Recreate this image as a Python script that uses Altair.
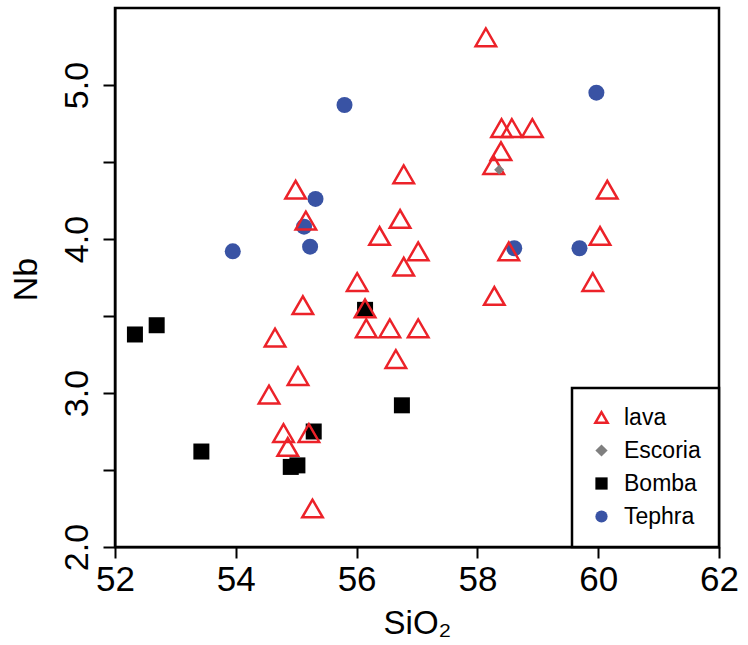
import altair as alt
import pandas as pd

# --- data ---
tephra_x = [55.80, 55.32, 55.13, 55.23, 53.95, 59.97, 58.61, 59.69]
tephra_y = [4.87, 4.26, 4.08, 3.95, 3.92, 4.95, 3.94, 3.94]

bomba_x = [52.33, 52.69, 53.43, 54.91, 55.02, 55.29, 56.14, 56.75]
bomba_y = [3.38, 3.44, 2.62, 2.52, 2.53, 2.75, 3.54, 2.92]

escoria_x = [58.36]
escoria_y = [4.45]

lava_x = [56.78, 54.99, 55.16, 56.72, 56.38, 57.02, 56.78, 56.01, 55.11, 56.14,
          56.16, 56.55, 57.02, 54.65, 56.65, 55.03, 54.55, 54.79, 55.21, 54.86,
          55.27, 58.14, 58.40, 58.57, 58.91, 58.39, 58.27, 60.15, 60.03, 58.52,
          59.91, 58.28]
lava_y = [4.42, 4.32, 4.12, 4.13, 4.02, 3.92, 3.82, 3.72, 3.57, 3.55,
          3.42, 3.42, 3.42, 3.36, 3.22, 3.11, 2.99, 2.74, 2.74, 2.65,
          2.25, 5.31, 4.72, 4.72, 4.72, 4.57, 4.48, 4.32, 4.02, 3.92,
          3.72, 3.63]

types = ["lava", "Escoria", "Bomba", "Tephra"]
size_order = ["Tephra", "Bomba", "Escoria", "lava"]
x_ticks = [52, 54, 56, 58, 60, 62]
y_ticks = [2.0, 2.5, 3.0, 3.5, 4.0, 4.5, 5.0]

rows = []
for t, xs, ys in [("Tephra", tephra_x, tephra_y), ("Bomba", bomba_x, bomba_y),
                  ("lava", lava_x, lava_y), ("Escoria", escoria_x, escoria_y)]:
    for a, b in zip(xs, ys):
        rows.append({"SiO2": a, "Nb": b, "type": t, "kind": t})
df = pd.DataFrame(rows)

RED = "#ec2229"
font = "Liberation Sans"

leg = alt.Legend(title="", orient="bottom-right", offset=0,
                 strokeColor="black", fillColor="white", padding=18,
                 rowPadding=9, labelFontSize=23, labelFont=font, labelColor="black",
                 labelOffset=11, symbolSize=150, symbolStrokeWidth=2.5, labelLimit=200,
                 direction="vertical")

chart = alt.Chart(df).mark_point(strokeWidth=2.5, opacity=1).encode(
    x=alt.X("SiO2:Q", scale=alt.Scale(domain=[52, 62], nice=False, zero=False),
            axis=alt.Axis(title="SiO₂", values=x_ticks, format="d", grid=False,
                          tickSize=11, tickWidth=2, tickColor="black",
                          domainColor="black", domainWidth=2,
                          labelFontSize=35, labelFont=font, labelColor="black",
                          labelPadding=4, labelFlush=False,
                          titleFont=font, titleFontSize=33, titleFontWeight="normal",
                          titleColor="black", titleBaseline="alphabetic", titleY=86)),
    y=alt.Y("Nb:Q", scale=alt.Scale(domain=[2, 5.5], nice=False, zero=False),
            axis=alt.Axis(title="Nb", values=y_ticks, grid=False,
                          labelExpr="datum.value % 1 == 0 ? format(datum.value, '.1f') : ''",
                          labelAngle=-90, labelAlign="center", labelBaseline="bottom",
                          tickSize=12, tickWidth=2, tickColor="black",
                          domainColor="black", domainWidth=2,
                          labelFontSize=34, labelFont=font, labelColor="black",
                          labelPadding=9, labelFlush=False,
                          titleFont=font, titleFontSize=34, titleFontWeight="normal",
                          titleColor="black", titleAngle=-90, titleAlign="center",
                          titleBaseline="middle", titleX=-89, titleY=271)),
    shape=alt.Shape("type:N", scale=alt.Scale(domain=types,
                    range=["triangle-up", "diamond", "square", "circle"]), legend=leg),
    stroke=alt.Stroke("type:N", scale=alt.Scale(domain=types,
                      range=[RED, "transparent", "transparent", "transparent"]), legend=leg),
    fill=alt.Fill("type:N", scale=alt.Scale(domain=types,
                  range=["transparent", "#7f7f7f", "#000000", "#3953a4"]), legend=leg),
    size=alt.Size("kind:N", scale=alt.Scale(type="ordinal", domain=size_order,
                  range=[256, 256, 100, 420]), legend=None),
).properties(
    width=604, height=539,
    padding={"left": 115, "top": 8, "right": 29, "bottom": 98},
    autosize=alt.AutoSizeParams(type="none"),
).configure_view(
    stroke="black", strokeWidth=2.5
).configure_legend(
    strokeWidth=2.5, cornerRadius=0,
)

chart.save("out.html", embed_options={"renderer": "svg", "actions": False})
